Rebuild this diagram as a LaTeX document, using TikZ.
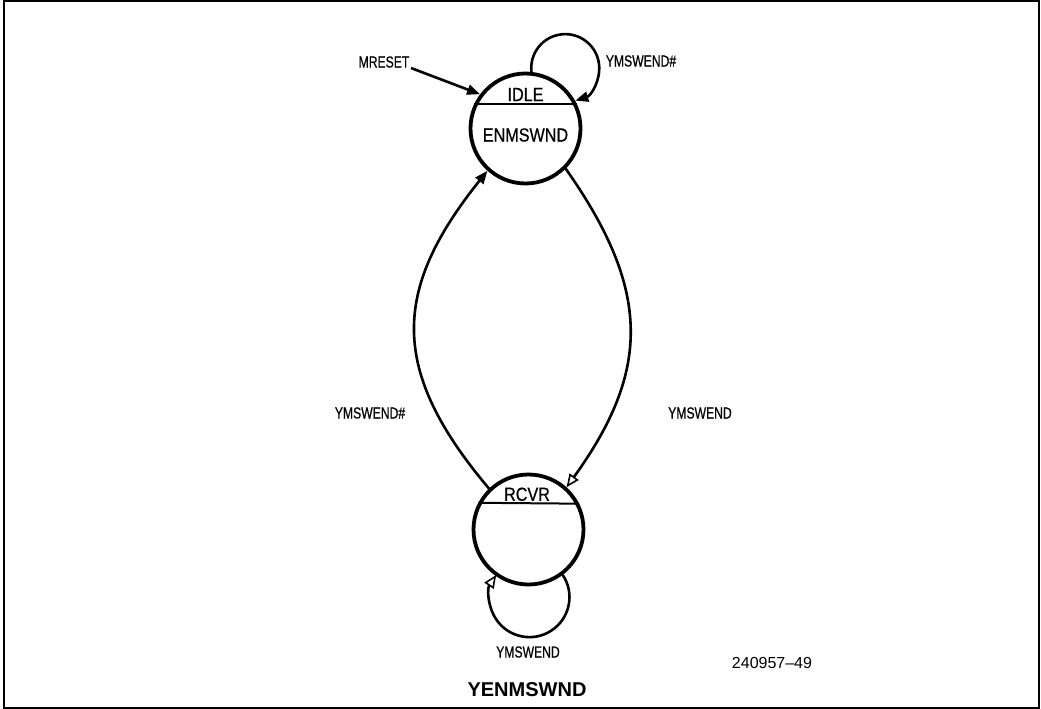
\documentclass[tikz,border=0pt]{standalone}
\usepackage{fontspec}
\setmainfont{Liberation Sans}
\newfontfamily\condfont[FakeStretch=0.85,FakeBold=0.6]{Liberation Sans}
\newfontfamily\narrowfont[FakeStretch=0.76,FakeBold=0.6]{Liberation Sans}
\usetikzlibrary{arrows.meta}
\begin{document}
\begin{tikzpicture}[x=1pt,y=-1pt,
  state/.style={circle,draw,line width=3.8pt,minimum size=110pt,inner sep=0pt},
  conn/.style={line width=2.6pt},
  tipfill/.style={-{Triangle[length=13pt,width=10pt]}},
  tipopen/.style={-{Triangle[open,length=13pt,width=11pt,line width=1.6pt]}},
  lbl/.style={font=\narrowfont\fontsize{16}{19}\selectfont,inner sep=0pt},
  big/.style={font=\condfont\fontsize{19}{23}\selectfont,inner sep=0pt}]
\useasboundingbox (0,0) rectangle (1041,709);
\draw[line width=2pt] (3.5,1.5) rectangle (1039,707.5);

% states
\node[state] (idle) at (525.5,128.5) {};
\node[big] (idlet) at (525.5,94.5) {IDLE};
\node[big] (enm) at (525.5,135) {ENMSWND};
\draw[line width=2pt] (idle.155) -- (idle.25);

\node[state] (rcvr) at (528.5,529.5) {};
\node[big] (rcvrt) at (527,494.3) {RCVR};
\draw[line width=2pt] (rcvr.152.3) -- (rcvr.27.7);

% transitions
\draw[conn,tipfill] (rcvr.134.7) .. controls (389,370) and (392,290) .. (idle.228.5);
\draw[conn,tipopen] (idle.-45.7) .. controls (651,290) and (651,370) .. (rcvr.48);
\draw[conn,tipfill] (idle.84.2) arc[start angle=173.6,end angle=432.7,radius=34];
\draw[conn,tipopen] (rcvr.-53) arc[start angle=-33.7,end angle=213.7,radius=40];

\node[lbl] (mreset) at (384,62) {MRESET};
\coordinate (mstart) at (411,68);
\draw[conn,tipfill] (mstart) -- (idle.143.6);

% labels
\node[lbl] (l1) at (641,61) {YMSWEND\#};
\node[lbl] (l2) at (370,413) {YMSWEND\#};
\node[lbl] (l3) at (700,413) {YMSWEND};
\node[lbl] (l4) at (528,652) {YMSWEND};
\node[inner sep=0pt,font=\fontsize{16}{19}\selectfont] (num) at (772,663) {240957–49};
\node[inner sep=0pt,font=\bfseries\fontsize{20}{24}\selectfont] (title) at (527,690) {YENMSWND};
\end{tikzpicture}
\end{document}
